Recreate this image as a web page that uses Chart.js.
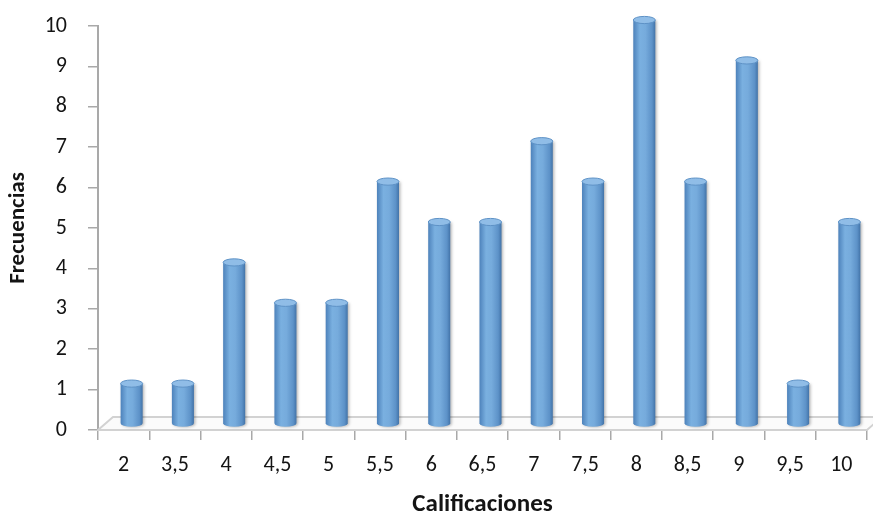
<!DOCTYPE html>
<html>
<head>
<meta charset="utf-8">
<script src="https://cdn.jsdelivr.net/npm/chart.js@4.4.1/dist/chart.umd.min.js"></script>
<style>
  html, body { margin: 0; padding: 0; background: #ffffff; }
  #wrap { width: 873px; height: 515px; }
</style>
</head>
<body>
<div id="wrap"><canvas id="c" width="873" height="515"></canvas></div>
<script>
// Grades and how many students got each one
const categories = ['2', '3,5', '4', '4,5', '5', '5,5', '6', '6,5', '7', '7,5', '8', '8,5', '9', '9,5', '10'];
const frequencies = [1, 1, 4, 3, 3, 6, 5, 5, 7, 6, 10, 6, 9, 1, 5];
const yMin = 0;
const yMax = 10;
const yStep = 1;

const FONT = "Carlito, Lato, 'Liberation Sans', sans-serif";
const AXIS_GREY = '#a9a9a9';
const FLOOR_DEPTH = { dx: 15, dy: 13 };   // 3D floor slab depth
const BAR_SHIFT = { dx: 8, dy: -6 };      // cylinders stand in the middle of the floor

// Floor slab drawn under the cylinders
const floorPlugin = {
  id: 'floor',
  beforeDatasetsDraw(chart) {
    const { ctx, chartArea: a } = chart;
    const y0 = chart.scales.y.getPixelForValue(yMin);
    ctx.save();
    ctx.beginPath();
    ctx.moveTo(a.left, y0);
    ctx.lineTo(a.left + FLOOR_DEPTH.dx, y0 - FLOOR_DEPTH.dy);
    ctx.lineTo(a.right + FLOOR_DEPTH.dx, y0 - FLOOR_DEPTH.dy);
    ctx.lineTo(a.right, y0);
    ctx.closePath();
    ctx.fillStyle = '#fbfbfb';
    ctx.fill();
    ctx.strokeStyle = '#d2d2d2';
    ctx.lineWidth = 2;
    ctx.stroke();
    ctx.restore();
  }
};

// Paint each bar as a shaded cylinder
const cylinderPlugin = {
  id: 'cylinders',
  afterDatasetsDraw(chart) {
    const { ctx } = chart;
    const meta = chart.getDatasetMeta(0);
    ctx.save();
    ctx.translate(BAR_SHIFT.dx, BAR_SHIFT.dy);
    meta.data.forEach((bar) => {
      const { x, y, base, width } = bar.getProps(['x', 'y', 'base', 'width'], true);
      const left = x - width / 2;
      const right = x + width / 2;
      const rx = width / 2;
      const ry = 3.6;

      const g = ctx.createLinearGradient(left, 0, right, 0);
      g.addColorStop(0, '#4d82bb');
      g.addColorStop(0.3, '#7ab0e0');
      g.addColorStop(0.55, '#76abdc');
      g.addColorStop(0.85, '#5d92c8');
      g.addColorStop(1, '#4273a8');

      // body with a rounded bottom
      ctx.save();
      ctx.shadowColor = 'rgba(0,0,0,0.28)';
      ctx.shadowBlur = 3;
      ctx.shadowOffsetX = 1.5;
      ctx.shadowOffsetY = 0.5;
      ctx.beginPath();
      ctx.moveTo(left, y);
      ctx.lineTo(left, base);
      ctx.ellipse(x, base, rx, ry, 0, Math.PI, 0, true);
      ctx.lineTo(right, y);
      ctx.closePath();
      ctx.fillStyle = g;
      ctx.fill();
      ctx.restore();

      // top cap
      ctx.beginPath();
      ctx.ellipse(x, y, rx, ry, 0, 0, Math.PI * 2);
      ctx.fillStyle = '#90bde7';
      ctx.fill();
      ctx.strokeStyle = '#5e92c6';
      ctx.lineWidth = 1;
      ctx.stroke();
    });
    ctx.restore();
  }
};

new Chart(document.getElementById('c'), {
  type: 'bar',
  data: {
    labels: categories,
    datasets: [{
      label: 'Frecuencias',
      data: frequencies,
      backgroundColor: 'rgba(0,0,0,0)',
      borderWidth: 0,
      barPercentage: 0.43,
      categoryPercentage: 1
    }]
  },
  options: {
    responsive: false,
    animation: false,
    devicePixelRatio: 1,
    layout: { padding: { top: 26, right: 6, left: 0, bottom: 0 } },
    plugins: {
      legend: { display: false },
      tooltip: { enabled: false }
    },
    scales: {
      x: {
        grid: {
          display: true,
          drawOnChartArea: false,
          drawTicks: true,
          tickLength: 10,
          color: AXIS_GREY,
          lineWidth: 1.5,
          offset: true
        },
        border: { display: true, color: '#c4c4c4', width: 2 },
        ticks: {
          color: '#141414',
          font: { family: FONT, size: 22 },
          padding: 12,
          maxRotation: 0,
          autoSkip: false
        },
        title: {
          display: true,
          text: 'Calificaciones',
          color: '#141414',
          font: { family: FONT, size: 25, weight: 'bold' },
          padding: { top: 6, bottom: -5 }
        },
        afterFit(scale) { scale.height = 85; }
      },
      y: {
        min: yMin,
        max: yMax,
        grid: {
          display: true,
          drawOnChartArea: false,
          drawTicks: true,
          tickLength: 10,
          color: AXIS_GREY,
          lineWidth: 1.5
        },
        border: { display: true, color: AXIS_GREY, width: 2 },
        ticks: {
          stepSize: yStep,
          color: '#141414',
          font: { family: FONT, size: 22 },
          padding: 21
        },
        title: {
          display: true,
          text: 'Frecuencias',
          color: '#141414',
          font: { family: FONT, size: 23, weight: 'bold' },
          padding: { top: 4, bottom: 6 }
        },
        afterFit(scale) {
          scale.width = 98;
          scale.paddingTop = 0;
          scale.paddingBottom = 0;
        }
      }
    }
  },
  plugins: [floorPlugin, cylinderPlugin]
});
</script>
</body>
</html>
